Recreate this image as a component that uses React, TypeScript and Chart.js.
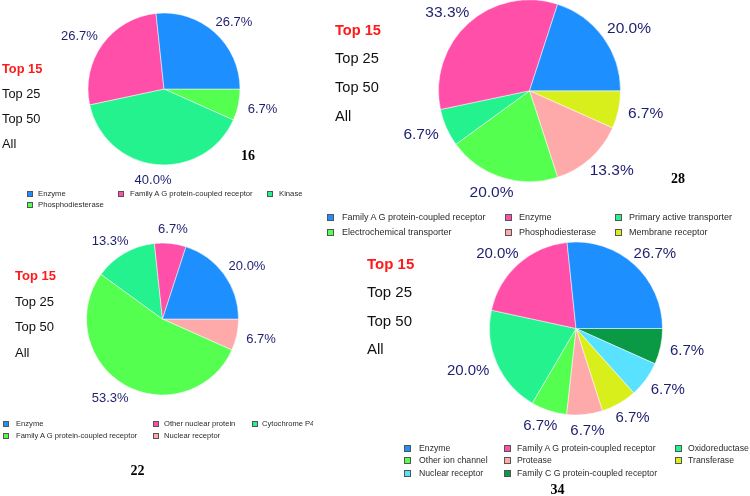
import React, { useEffect, useRef } from "react";
import { Chart, registerables } from "chart.js";

Chart.register(...registerables);

const W = 750;
const H = 496;

// palette by slice index
const palette = ["#1e8fff", "#ff4fa8", "#24f28e", "#55ff4f", "#ffaaaa", "#d8ef1c", "#58e2ff", "#0a9a46"];

const filterOptions = ["Top 15", "Top 25", "Top 50", "All"];

const labels16 = ["Enzyme", "Family A G protein-coupled receptor", "Kinase", "Phosphodiesterase"];
const values16 = [26.7, 26.7, 40.0, 6.7];

const labels28 = [
  "Family A G protein-coupled receptor",
  "Enzyme",
  "Primary active transporter",
  "Electrochemical transporter",
  "Phosphodiesterase",
  "Membrane receptor",
];
const values28 = [20.0, 33.3, 6.7, 20.0, 13.3, 6.7];

const labels22 = ["Enzyme", "Other nuclear protein", "Cytochrome P450", "Family A G protein-coupled receptor", "Nuclear receptor"];
const values22 = [20.0, 6.7, 13.3, 53.3, 6.7];

const labels34 = [
  "Enzyme",
  "Family A G protein-coupled receptor",
  "Oxidoreductase",
  "Other ion channel",
  "Protease",
  "Transferase",
  "Nuclear receptor",
  "Family C G protein-coupled receptor",
];
const values34 = [26.7, 20.0, 20.0, 6.7, 6.7, 6.7, 6.7, 6.7];

type Panel = {
  id: string;
  labels: string[];
  values: number[];
  cx: number;
  cy: number;
  r: number;
  pctSize: number;
  offset: number;
  filterX: number;
  filterY: number[];
  filterSize: number;
  sqX: number[];
  txX: number[];
  rowY: number[];
  legSize: number;
  sq: number;
  clipW?: { [k: number]: number };
  numX: number;
  numY: number;
};

const panels: Panel[] = [
  {
    id: "16", labels: labels16, values: values16,
    cx: 164, cy: 89, r: 76, pctSize: 13, offset: 10,
    filterX: 2, filterY: [69, 94, 119, 144], filterSize: 12.8,
    sqX: [27, 118, 267], txX: [38, 130, 279], rowY: [194, 205], legSize: 7.7, sq: 6,
    numX: 248, numY: 156,
  },
  {
    id: "28", labels: labels28, values: values28,
    cx: 529.5, cy: 90.5, r: 91, pctSize: 15.5, offset: 10,
    filterX: 335, filterY: [31, 59, 88, 117], filterSize: 14.6,
    sqX: [327, 505, 615], txX: [342, 519, 629], rowY: [217, 232], legSize: 9, sq: 7,
    numX: 678, numY: 179,
  },
  {
    id: "22", labels: labels22, values: values22,
    cx: 162.5, cy: 319, r: 76, pctSize: 13, offset: 10,
    filterX: 15, filterY: [276, 302, 327, 353], filterSize: 13,
    sqX: [3, 153, 252], txX: [16, 164, 262], rowY: [424, 436], legSize: 7.6, sq: 6,
    clipW: { 2: 51 },
    numX: 137.5, numY: 471,
  },
  {
    id: "34", labels: labels34, values: values34,
    cx: 576, cy: 328.5, r: 86.5, pctSize: 15, offset: 10,
    filterX: 367, filterY: [264, 292, 321, 349], filterSize: 15,
    sqX: [404, 504, 675], txX: [419, 517, 688], rowY: [448, 460, 473], legSize: 8.7, sq: 7,
    numX: 557.5, numY: 490,
  },
];

const FONT = '"Liberation Sans", Arial, Helvetica, sans-serif';

const pctLabelPlugin = {
  id: "pctLabels",
  afterDatasetsDraw(chart: any, _args: any, opts: any) {
    const ctx = chart.ctx;
    const meta = chart.getDatasetMeta(0);
    const data = chart.data.datasets[0].data as number[];
    ctx.save();
    ctx.font = `${opts.size}px ${FONT}`;
    ctx.fillStyle = "#1e1e70";
    ctx.textAlign = "center";
    ctx.textBaseline = "middle";
    meta.data.forEach((arc: any, i: number) => {
      const p = arc.getProps(["x", "y", "startAngle", "endAngle", "outerRadius"], true);
      const mid = (p.startAngle + p.endAngle) / 2;
      const c = Math.cos(mid);
      const s = Math.sin(mid);
      const ax = p.x + (p.outerRadius + opts.offset) * c;
      const ay = p.y + (p.outerRadius + opts.offset) * s;
      const text = data[i].toFixed(1) + "%";
      const w = ctx.measureText(text).width;
      const h = opts.size * 0.72;
      ctx.fillText(text, ax + (w / 2) * c, ay + (h / 2) * s + 1);
    });
    ctx.restore();
  },
};

function PieCanvas({ panel }: { panel: Panel }) {
  const ref = useRef<HTMLCanvasElement | null>(null);
  useEffect(() => {
    if (!ref.current) return;
    const colors = panel.values.map((_, i) => palette[i]);
    // drawn clockwise from 3 o'clock in reverse order => counter-clockwise in legend order
    const drawValues = panel.values.slice().reverse();
    const drawColors = colors.slice().reverse();
    const drawLabels = panel.labels.slice().reverse();
    const chart = new Chart(ref.current, {
      type: "pie",
      data: {
        labels: drawLabels,
        datasets: [
          {
            data: drawValues,
            backgroundColor: drawColors,
            borderColor: "#ffffff",
            borderWidth: 0.5,
            radius: panel.r,
            hoverOffset: 0,
          } as any,
        ],
      },
      options: {
        responsive: false,
        animation: false,
        rotation: 90,
        layout: {
          padding: {
            left: panel.cx - panel.r,
            right: W - (panel.cx + panel.r),
            top: panel.cy - panel.r,
            bottom: H - (panel.cy + panel.r),
          },
        },
        plugins: {
          legend: { display: false },
          tooltip: { enabled: false },
          title: { display: false },
          pctLabels: { size: panel.pctSize, offset: panel.offset },
        } as any,
        events: [],
      },
      plugins: [pctLabelPlugin],
    });
    return () => chart.destroy();
  }, [panel]);
  return (
    <canvas
      ref={ref}
      width={W}
      height={H}
      style={{ position: "absolute", left: 0, top: 0, width: W, height: H }}
    />
  );
}

function PanelText({ panel }: { panel: Panel }) {
  const items: React.ReactNode[] = [];
  panel.filterY.forEach((y, i) => {
    items.push(
      <div
        key={"f" + i}
        style={{
          position: "absolute",
          left: panel.filterX,
          top: y - panel.filterSize * 0.6,
          fontFamily: FONT,
          fontSize: panel.filterSize,
          lineHeight: `${panel.filterSize * 1.2}px`,
          whiteSpace: "nowrap",
          color: i === 0 ? "#ff1a1a" : "#111111",
          fontWeight: i === 0 ? "bold" : "normal",
        }}
      >
        {filterOptions[i]}
      </div>
    );
  });
  panel.labels.forEach((lab, i) => {
    const col = i % 3;
    const row = Math.floor(i / 3);
    const y = panel.rowY[row];
    items.push(
      <div
        key={"s" + i}
        style={{
          position: "absolute",
          left: panel.sqX[col],
          top: y - panel.sq / 2,
          width: panel.sq - 2,
          height: panel.sq - 2,
          border: "1px solid #555",
          background: palette[i],
        }}
      />
    );
    const clip = panel.clipW && panel.clipW[i];
    items.push(
      <div
        key={"t" + i}
        style={{
          position: "absolute",
          left: panel.txX[col],
          top: y - panel.legSize * 0.6,
          fontFamily: FONT,
          fontSize: panel.legSize,
          lineHeight: `${panel.legSize * 1.2}px`,
          whiteSpace: "nowrap",
          color: "#2a2a2a",
          overflow: clip ? "hidden" : "visible",
          width: clip ? clip : undefined,
        }}
      >
        {lab}
      </div>
    );
  });
  items.push(
    <div
      key="num"
      style={{
        position: "absolute",
        left: panel.numX - 20,
        width: 40,
        textAlign: "center",
        top: panel.numY - 8,
        fontFamily: '"Liberation Serif", "Times New Roman", serif',
        fontWeight: "bold",
        fontSize: 14,
        lineHeight: "16px",
        color: "#000",
      }}
    >
      {panel.id}
    </div>
  );
  return <>{items}</>;
}

export default function App() {
  return (
    <div
      style={{
        position: "absolute",
        left: 0,
        top: 0,
        width: W,
        height: H,
        background: "#ffffff",
        overflow: "hidden",
      }}
    >
      {panels.map((p) => (
        <PieCanvas key={"c" + p.id} panel={p} />
      ))}
      {panels.map((p) => (
        <PanelText key={"t" + p.id} panel={p} />
      ))}
    </div>
  );
}
